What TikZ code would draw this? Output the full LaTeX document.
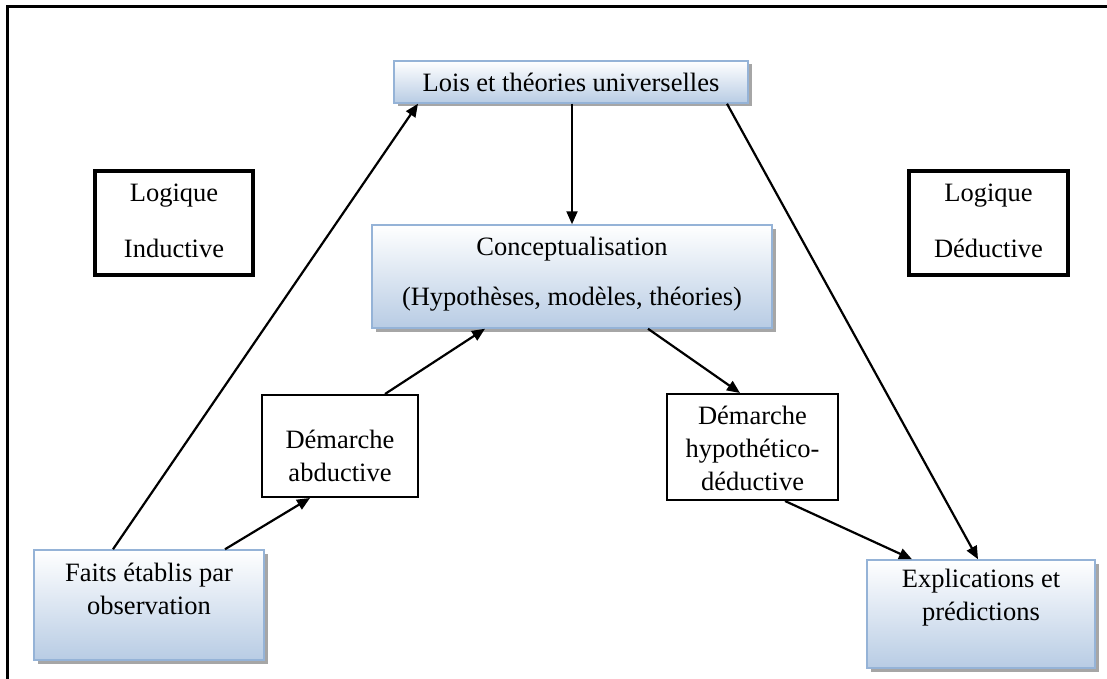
\documentclass[tikz,border=0pt]{standalone}
\usepackage{fontspec}
\setmainfont{Liberation Serif}
\usetikzlibrary{arrows.meta,shadows}
\definecolor{boxblue}{RGB}{184,204,228}
\definecolor{edgeblue}{RGB}{149,179,215}
\tikzset{
  every node/.style={font=\fontsize{26.5}{33}\selectfont},
  gradbox/.style={draw=edgeblue, line width=1.5pt, top color=white, bottom color=boxblue,
    drop shadow={shadow xshift=3.5pt, shadow yshift=-3.5pt, fill=gray!70, opacity=1}},
  plainbox/.style={draw=black, line width=2pt, fill=white},
  logicbox/.style={draw=black, line width=4pt, fill=white},
  lbl/.style={align=center, inner sep=0pt},
  conn/.style={line width=2.2pt, -{Triangle[length=13pt,width=11pt]}},
}
\begin{document}
\begin{tikzpicture}[x=1pt,y=1pt]
\useasboundingbox (0,0) rectangle (1107,-679);
% outer frame (left and top edges)
\draw[line width=3pt] (7,-679) -- (7,-7) -- (1107,-7);

% boxes
\node[gradbox, minimum width=354pt, minimum height=42pt] (lois) at (571,-82) {};
\node[lbl] at (571,-82) {Lois et théories universelles};

\node[gradbox, minimum width=400pt, minimum height=103pt] (concept) at (572,-276.5) {};
\node[lbl] at (572,-249) {Conceptualisation};
\node[lbl] at (572,-299) {(Hypothèses, modèles, théories)};

\node[logicbox, minimum width=158pt, minimum height=104pt] (induct) at (174,-223) {};
\node[lbl] at (174,-196) {Logique};
\node[lbl] at (174,-248) {Inductive};

\node[logicbox, minimum width=159pt, minimum height=104pt] (deduct) at (988.5,-223) {};
\node[lbl] at (988.5,-196) {Logique};
\node[lbl] at (988.5,-248) {Déductive};

\node[plainbox, minimum width=156pt, minimum height=102pt] (abduct) at (340,-446) {};
\node[lbl] at (340,-456) {Démarche\\abductive};

\node[plainbox, minimum width=171pt, minimum height=106pt] (hypo) at (752.5,-447) {};
\node[lbl] at (752.5,-448) {Démarche\\hypothético-\\déductive};

\node[gradbox, minimum width=230pt, minimum height=110pt] (faits) at (149,-605) {};
\node[lbl] at (149,-589) {Faits établis par\\observation};

\node[gradbox, minimum width=228pt, minimum height=108pt] (explic) at (981,-614) {};
\node[lbl] at (981,-598) {Explications et\\prédictions};

% connectors
\draw[conn] ([xshift=-36pt]faits.north) -- ([xshift=-153pt]lois.south);
\draw[conn] ([xshift=1pt]lois.south) -- ([xshift=0pt]concept.north);
\draw[conn] ([xshift=156pt]lois.south) -- ([xshift=-3pt]explic.north);
\draw[conn] ([xshift=76pt]faits.north) -- ([xshift=-30pt]abduct.south);
\draw[conn] ([xshift=45pt]abduct.north) -- ([xshift=-87pt]concept.south);
\draw[conn] ([xshift=76pt]concept.south) -- ([xshift=-12.5pt]hypo.north);
\draw[conn] ([xshift=32.5pt]hypo.south) -- ([xshift=-69pt]explic.north);
\end{tikzpicture}
\end{document}
